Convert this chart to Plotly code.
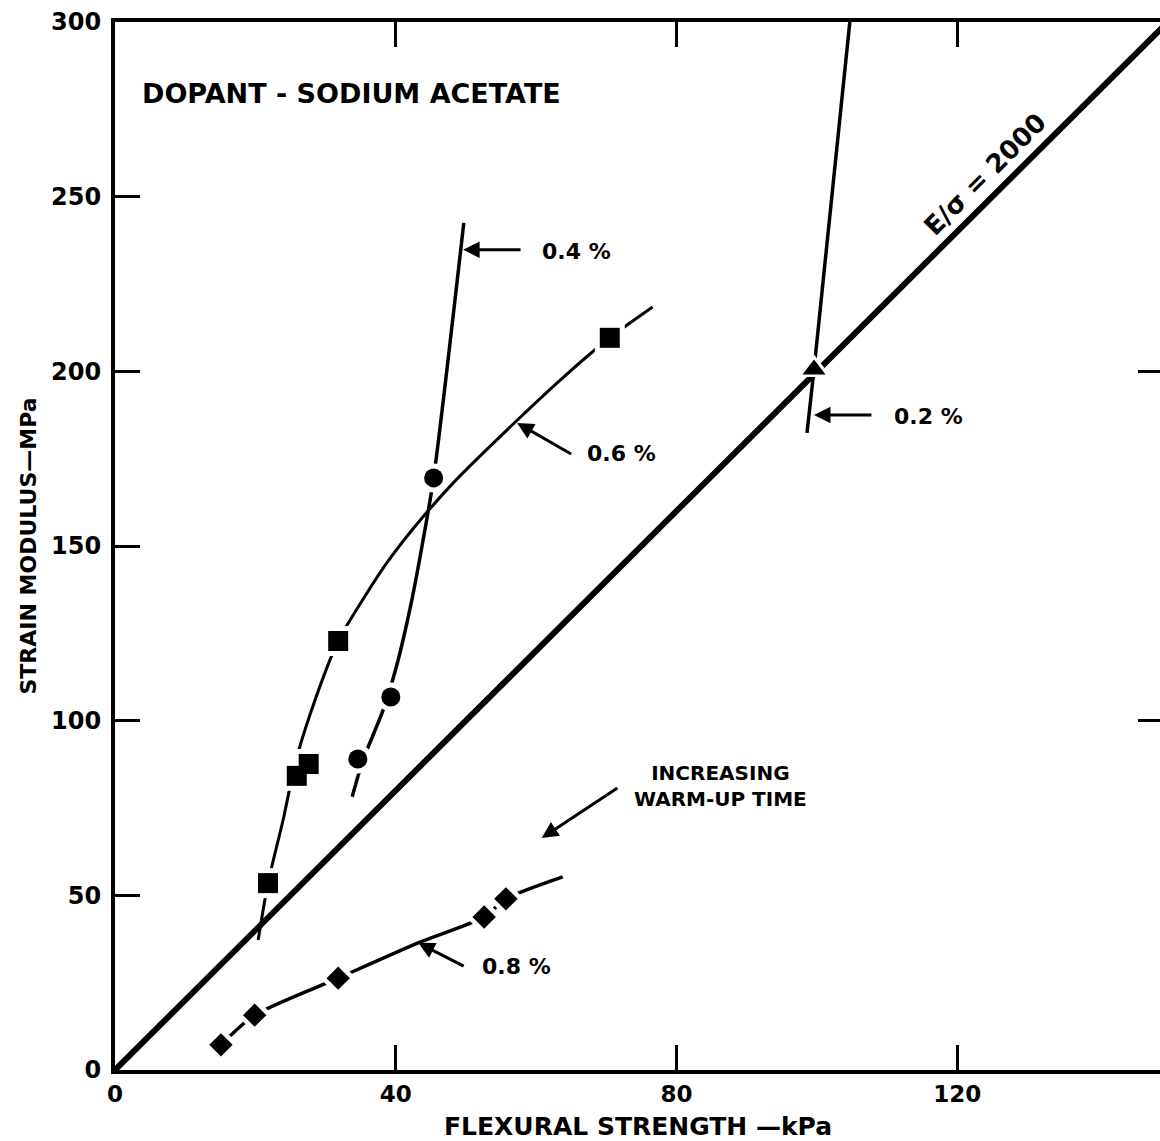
import plotly.graph_objects as go

# Measured points (flexural strength kPa, strain modulus MPa) per dopant level
sq_x = [21.8, 25.9, 27.6, 31.8, 70.5]          # 0.6 %
sq_y = [53.5, 84.2, 87.6, 122.8, 209.6]
ci_x = [34.6, 39.3, 45.4]                      # 0.4 %
ci_y = [89.0, 106.8, 169.5]
tr_x = [99.6]                                  # 0.2 %
tr_y = [200.5]
di_x = [15.1, 19.9, 31.8, 52.6, 55.7]          # 0.8 %
di_y = [7.2, 15.7, 26.3, 43.8, 49.0]

# Hand-faired trend curves through each set
c06_x = [20.4, 21.8, 24.0, 25.7, 28.0, 31.8, 35.3, 38.5, 42.5, 48.4, 57.3, 64.0, 70.5, 76.6]
c06_y = [37.2, 53.5, 72.0, 88.0, 103.0, 122.8, 134.6, 144.5, 155.0, 168.5, 186.0, 198.5,
         209.6, 218.4]
c04_x = [33.8, 35.3, 38.2, 40.1, 42.3, 43.9, 45.4, 49.7]
c04_y = [78.2, 88.5, 103.0, 115.5, 134.6, 151.7, 169.5, 242.5]
c02_x = [98.6, 99.6, 104.7]
c02_y = [182.4, 200.5, 300.0]
c08_x = [15.1, 19.9, 31.8, 43.2, 52.6, 55.7, 63.8]
c08_y = [7.2, 15.7, 26.3, 36.4, 43.8, 49.0, 55.3]

# Reference ratio line E/sigma = 2000  (MPa / kPa -> 2000 => y = 2x)
ratio_x = [0, 150]
ratio_y = [0, 300]

x_ticks = [0, 40, 80, 120]
y_ticks = [0, 50, 100, 150, 200, 250, 300]
right_ticks = [100, 200]

FONT = "DejaVu Sans"
INK = "black"

fig = go.Figure()

fig.add_trace(go.Scatter(x=ratio_x, y=ratio_y, mode="lines",
                         line=dict(color=INK, width=6)))
for cx, cy, w in [(c06_x, c06_y, 3), (c04_x, c04_y, 3.5),
                  (c02_x, c02_y, 3.5), (c08_x, c08_y, 3.5)]:
    fig.add_trace(go.Scatter(x=cx, y=cy, mode="lines",
                             line=dict(color=INK, width=w, shape="spline", smoothing=0.7)))

marker_sets = [(sq_x, sq_y, "square", 20), (ci_x, ci_y, "circle", 19),
               (tr_x, tr_y, "triangle-up", 20), (di_x, di_y, "diamond", 18)]

# White halos first so the curves break around every symbol
for mx, my, sym, size in marker_sets:
    fig.add_trace(go.Scatter(x=mx, y=my, mode="markers",
                             marker=dict(symbol=sym, size=size + 10, color="white",
                                         line=dict(width=0))))
# Solid symbols on top
for mx, my, sym, size in marker_sets:
    fig.add_trace(go.Scatter(x=mx, y=my, mode="markers",
                             marker=dict(symbol=sym, size=size, color=INK,
                                         line=dict(width=0))))

def arrow(tip, tail):
    fig.add_annotation(x=tip[0], y=tip[1], ax=tail[0], ay=tail[1],
                       xref="x", yref="y", axref="x", ayref="y", text="",
                       showarrow=True, arrowhead=2, arrowsize=1.1, arrowwidth=3,
                       arrowcolor=INK)

def label(x, y, txt, size=22, **kw):
    fig.add_annotation(x=x, y=y, xref="x", yref="y", text=txt, showarrow=False,
                       xanchor="left", yanchor="middle",
                       font=dict(family=FONT, size=size, color=INK, weight="bold"), **kw)

arrow((49.6, 234.8), (58.0, 234.8))
label(60.5, 234.2, "0.4 %")
arrow((57.3, 185.2), (65.2, 176.1))
label(67.0, 176.6, "0.6 %")
arrow((99.6, 187.5), (108.0, 187.5))
label(110.7, 187.0, "0.2 %")
arrow((43.2, 36.4), (49.9, 29.5))
label(52.0, 29.5, "0.8 %")
arrow((60.8, 66.4), (71.8, 81.0))
label(73.6, 81.3, "INCREASING<br>WARM-UP TIME", size=20)
label(3.5, 279.5, "DOPANT - SODIUM ACETATE", size=27)

fig.add_annotation(x=124.0, y=256.5, xref="x", yref="y", text="E/σ = 2000",
                   showarrow=False, textangle=-45,
                   font=dict(family=FONT, size=26, color=INK, weight="bold"))

# x-axis title placed just under the tick labels
fig.add_annotation(x=0.5, y=-0.0535, xref="paper", yref="paper",
                   text="FLEXURAL STRENGTH —kPa", showarrow=False,
                   xanchor="center", yanchor="middle",
                   font=dict(family=FONT, size=25, color=INK, weight="bold"))

fig.update_xaxes(range=[0, 148.9], tickvals=x_ticks, ticktext=[str(v) for v in x_ticks],
                 showgrid=False, zeroline=False, showline=True, linecolor=INK,
                 linewidth=4, mirror="ticks", ticks="inside", ticklen=25,
                 tickwidth=3, tickcolor=INK,
                 tickfont=dict(family=FONT, size=23, color=INK, weight="bold"))
fig.update_layout(yaxis=dict(range=[0, 300], tickvals=y_ticks,
                             ticktext=[str(v) for v in y_ticks],
                             showgrid=False, zeroline=False, showline=True, linecolor=INK,
                             linewidth=4, mirror=False, ticks="inside", ticklen=25,
                             tickwidth=3, tickcolor=INK, ticklabelstandoff=5,
                             tickfont=dict(family=FONT, size=24, color=INK, weight="bold"),
                             title=dict(text="STRAIN MODULUS—MPa", standoff=9,
                                        font=dict(family=FONT, size=22, color=INK,
                                                  weight="bold"))),
                  yaxis2=dict(range=[0, 300], overlaying="y", side="right",
                              tickvals=right_ticks, showticklabels=False,
                              ticks="inside", ticklen=22, tickwidth=3, tickcolor=INK,
                              showgrid=False, zeroline=False, showline=False))
# invisible trace to activate the right-hand tick axis
fig.add_trace(go.Scatter(x=[0], y=[0], yaxis="y2", mode="markers",
                         marker=dict(opacity=0), hoverinfo="skip"))

fig.update_layout(width=1160, height=1141, showlegend=False,
                  margin=dict(l=115, r=0, t=22, b=71, autoexpand=False),
                  plot_bgcolor="white", paper_bgcolor="white")

fig.write_html("out.html")
